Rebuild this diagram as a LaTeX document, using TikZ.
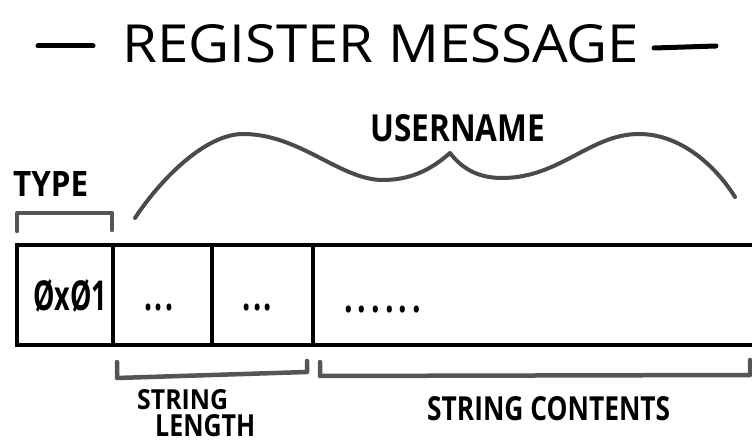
\documentclass[tikz,border=0pt]{standalone}
\usepackage{fontspec}
\setmainfont{Open Sans}
\definecolor{bracketgray}{HTML}{555555}
\definecolor{bracegray}{HTML}{4A4A4A}
% stretch a piece of text to a given width and cap height (in pt)
\newcommand\fitted[3]{\resizebox{#1pt}{#2pt}{#3}}
\tikzset{
  cellline/.style={line width=4pt, draw=black, line cap=round},
  bracketline/.style={line width=4.5pt, draw=bracketgray, line cap=round, line join=round},
  braceline/.style={line width=4pt, draw=bracegray, line cap=round, line join=round},
  dashline/.style={line width=5pt, draw=black, line cap=round},
  lbl/.style={inner sep=0pt, anchor=base west, font=\bfseries},
  ttl/.style={inner sep=0pt, anchor=base west},
}
\begin{document}
\begin{tikzpicture}[x=1pt, y=-1pt]
  \useasboundingbox (0,0) rectangle (752,443);

  % title with its two dashes
  \node[ttl] (title) at (122,63) {\fitted{517}{38}{REGISTER MESSAGE}};
  \coordinate (dl1) at (38,46);  \coordinate (dl2) at (93,46);
  \coordinate (dr1) at (654,48); \coordinate (dr2) at (716,46);
  \draw[dashline] (dl1) -- (dl2);
  \draw[dashline] (dr1) -- (dr2);

  % the message frame, open on the right
  \coordinate (tl) at (17,245);  \coordinate (bl) at (17,345);
  \coordinate (tr) at (752,245); \coordinate (br) at (752,345);
  \draw[cellline] (tr) -- (tl) -- (bl) -- (br);
  \foreach \x [count=\i] in {113,212,313} {
    \coordinate (dt\i) at (\x,245);
    \coordinate (db\i) at (\x,345);
    \draw[cellline] (dt\i) -- (db\i);
  }

  % cell contents
  \node[lbl] (typeval) at (33,311) {\fitted{74}{31}{ØxØ1}};
  \node[lbl] (len1) at (144,311) {\fitted{29}{6.5}{.\kern0.09em.\kern0.09em.}};
  \node[lbl] (len2) at (242,311) {\fitted{30}{6.5}{.\kern0.09em.\kern0.09em.}};
  \node[lbl] (str)  at (344,313) {\fitted{77}{6.5}{.\,.\,.\,.\,.\,.}};

  % type bracket
  \coordinate (ta) at (17,231); \coordinate (tb) at (17,213);
  \coordinate (tc) at (112,213); \coordinate (td) at (112,230);
  \draw[bracketline] (ta) -- (tb) -- (tc) -- (td);
  \node[lbl] (type) at (13,197) {\fitted{75}{25}{TYPE}};

  % username brace
  \coordinate (u0) at (135,218);
  \coordinate (u1) at (243,134);
  \coordinate (u2) at (383,180);
  \coordinate (u3) at (450,153);
  \coordinate (u4) at (502,178);
  \coordinate (u5) at (639,134);
  \coordinate (u6) at (735,197);
  \draw[braceline] (u0) .. controls (160,180) and (205,134) .. (u1)
                        .. controls (300,134) and (340,180) .. (u2)
                        .. controls (415,180) and (435,166) .. (u3)
                        .. controls (463,170) and (480,178) .. (u4)
                        .. controls (560,178) and (590,134) .. (u5)
                        .. controls (680,134) and (715,165) .. (u6);
  \node[lbl] (username) at (370,142) {\fitted{175}{27}{USERNAME}};

  % string length bracket
  \coordinate (la) at (117,362); \coordinate (lb) at (117,378);
  \coordinate (lc) at (307,372); \coordinate (ld) at (307,361);
  \draw[bracketline] (la) -- (lb) -- (lc) -- (ld);
  \node[lbl] (slen1) at (137,409) {\fitted{91}{20}{STRING}};
  \node[lbl] (slen2) at (155,436) {\fitted{100}{22}{LENGTH}};

  % string contents bracket
  \coordinate (ca) at (320,362); \coordinate (cb) at (320,376);
  \coordinate (cc) at (750,375); \coordinate (cd) at (750,360);
  \draw[bracketline] (ca) -- (cb) -- (cc) -- (cd);
  \node[lbl] (scont) at (427,420) {\fitted{243}{24}{STRING CONTENTS}};
\end{tikzpicture}
\end{document}
